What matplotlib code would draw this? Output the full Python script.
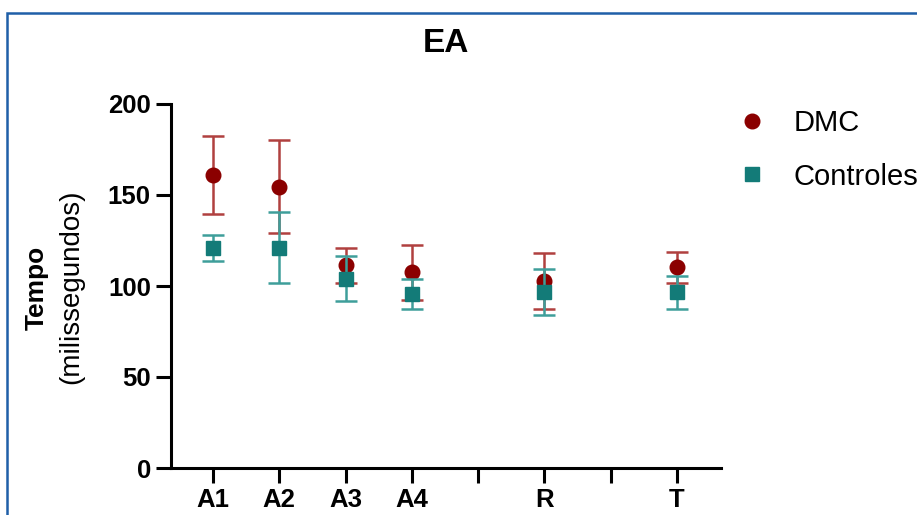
import matplotlib
matplotlib.use("Agg")
import matplotlib.pyplot as plt
from matplotlib.lines import Line2D
from matplotlib.patches import Rectangle

plt.rcParams['font.family'] = ['Liberation Sans', 'DejaVu Sans']

# Data
tick_labels = ['A1', 'A2', 'A3', 'A4', '', 'R', '', 'T']
categories = ['A1', 'A2', 'A3', 'A4', 'R', 'T']
cat_pos = [0, 1, 2, 3, 5, 7]
dmc_mean = [161, 154.6, 111.5, 107.5, 102.5, 110.3]
dmc_err = [21.5, 25.7, 9.6, 15.0, 15.4, 8.6]
ctrl_mean = [121, 121, 104, 95.4, 96.8, 96.6]
ctrl_err = [7.0, 19.5, 12.4, 8.3, 12.8, 9.1]
yticks = [0, 50, 100, 150, 200]

W, H = 917, 515
fig = plt.figure(figsize=(W / 100, H / 100), dpi=100)
ax = fig.add_axes([171 / W, (H - 468) / H, 550 / W, 364 / H])

dmc_marker = '#8B0000'
dmc_line = '#B0403F'
ctrl_marker = '#137B78'
ctrl_line = '#3E9E9A'

ax.errorbar(cat_pos, dmc_mean, yerr=dmc_err, fmt='o', color=dmc_marker,
            ecolor=dmc_line, elinewidth=1.8, capsize=8, capthick=1.8,
            markersize=10.5, zorder=3)
ax.errorbar(cat_pos, ctrl_mean, yerr=ctrl_err, fmt='s', color=ctrl_marker,
            ecolor=ctrl_line, elinewidth=1.8, capsize=8, capthick=1.8,
            markersize=10, zorder=4)

sp = (677 - 213) / 7
ax.set_xlim((171 - 213) / sp, (721 - 213) / sp)
ax.set_ylim(0, 200)
ax.set_xticks(range(len(tick_labels)))
ax.set_xticklabels(tick_labels, fontsize=18.5, fontweight='bold')
ax.set_yticks(yticks)
ax.set_yticklabels([str(v) for v in yticks], fontsize=18.5, fontweight='bold')
for s in ['top', 'right']:
    ax.spines[s].set_visible(False)
for s in ['left', 'bottom']:
    ax.spines[s].set_linewidth(2.2)
ax.tick_params(axis='both', length=11, width=2.2, pad=3.5)

fig.text(446 / W, 1 - 44 / H, 'EA', fontsize=24, fontweight='bold',
         ha='center', va='center')
fig.text(37 / W, 1 - 288 / H, 'Tempo', fontsize=19, fontweight='bold',
         rotation=90, ha='center', va='center')
fig.text(71 / W, 1 - 287 / H, '(milissegundos)', fontsize=20,
         rotation=90, ha='center', va='center')

handles = [Line2D([], [], marker='o', linestyle='none', color=dmc_marker, markersize=10.5),
           Line2D([], [], marker='s', linestyle='none', color=ctrl_marker, markersize=10)]
fig.legend(handles, ['DMC', 'Controles'], loc='upper left',
           bbox_to_anchor=(737 / W, 1 - 109 / H), frameon=False,
           fontsize=21, handlelength=1.0, handletextpad=0.95,
           labelspacing=0.88, borderpad=0, borderaxespad=0)

fig.patches.append(Rectangle((7 / W, -0.1), 2, 1.1 - 13 / H,
                             transform=fig.transFigure, fill=False,
                             edgecolor='#1F5FA8', linewidth=1.8))

fig.savefig('out.png', dpi=100)
